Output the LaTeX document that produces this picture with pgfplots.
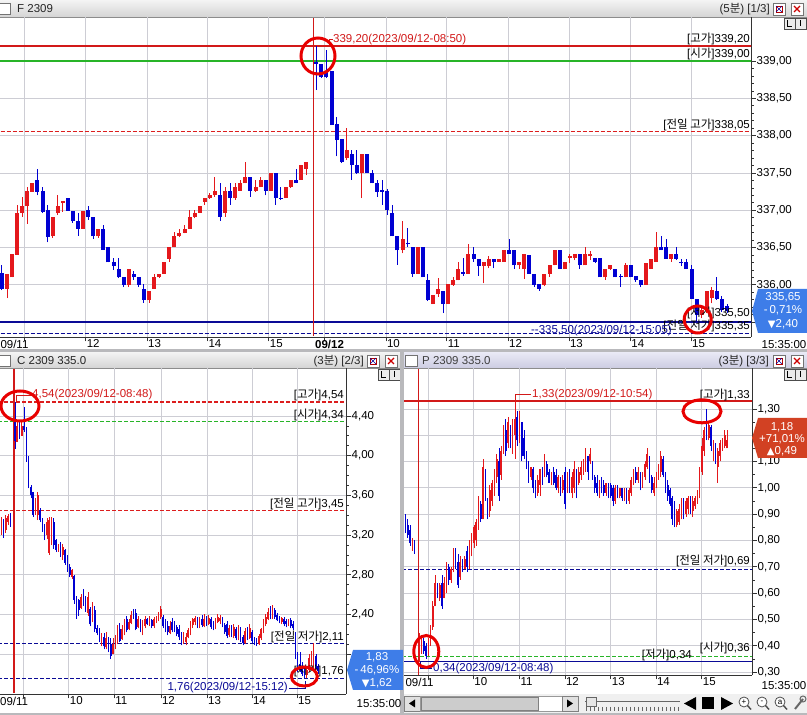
\documentclass[border=0pt]{standalone}
\usepackage{pgfplots}
\pgfplotsset{compat=1.18}
\usepackage{pgfplotstable}
\usepackage{fontspec}
\setmainfont{Liberation Sans}
\newfontfamily\kr{Noto Sans CJK KR}
\newfontfamily\sym{DejaVu Sans}
\newcommand{\lbl}{\fontsize{11.5}{13}\selectfont}
\newcommand{\K}[1]{{\kr #1}}
\definecolor{candR}{RGB}{228,24,28}
\definecolor{candB}{RGB}{0,0,210}
\definecolor{gridc}{RGB}{205,205,212}
\definecolor{hiR}{RGB}{210,25,25}
\definecolor{dashR}{RGB}{220,30,30}
\definecolor{openG}{RGB}{40,180,40}
\definecolor{nvy}{RGB}{10,10,150}
\definecolor{chrome}{RGB}{185,185,188}
\definecolor{hdrT}{RGB}{244,244,244}
\definecolor{hdrB}{RGB}{212,212,212}
\definecolor{hdrPT}{RGB}{234,234,246}
\definecolor{hdrPB}{RGB}{204,204,226}
\definecolor{boxB}{RGB}{62,125,232}
\definecolor{boxR}{RGB}{210,65,35}
\definecolor{circ}{RGB}{232,0,0}

% ---------- top panel: F 2309, 5-minute candles (x = candle slot) ----------
\pgfplotstableread{
x o h l c
1 335.95 336.15 335.82 336.15
2 336.10 336.41 336.10 336.41
3 336.40 337.07 336.40 336.96
4 336.96 337.18 336.91 337.06
5 337.05 337.31 336.82 337.26
6 337.25 337.36 337.25 337.36
10 336.65 336.91 336.63 336.91
11 336.96 337.20 336.94 337.06
12 337.10 337.12 336.98 337.12
16 336.75 336.99 336.75 336.99
19 336.65 336.75 336.63 336.75
25 336.00 336.21 335.97 336.21
29 335.80 335.91 335.76 335.91
30 335.95 336.15 335.95 336.10
31 336.10 336.15 336.09 336.15
32 336.15 336.31 336.15 336.31
33 336.35 336.50 336.31 336.50
34 336.50 336.71 336.50 336.65
35 336.65 336.75 336.64 336.70
36 336.70 336.80 336.69 336.75
37 336.75 337.00 336.75 336.91
38 336.91 337.00 336.89 336.96
39 336.96 337.06 336.96 337.06
40 337.11 337.16 337.07 337.16
41 337.16 337.23 337.15 337.20
42 337.20 337.45 337.18 337.26
44 336.96 337.31 336.91 337.26
46 337.16 337.36 337.14 337.31
47 337.26 337.41 337.26 337.36
48 337.36 337.65 337.36 337.45
50 337.26 337.41 337.25 337.31
51 337.31 337.45 337.31 337.41
53 337.26 337.50 337.26 337.50
56 337.16 337.31 337.16 337.31
57 337.31 337.41 337.30 337.41
59 337.41 337.60 337.41 337.60
60 337.55 337.65 337.47 337.65
68 337.70 338.10 337.67 337.81
71 337.50 337.75 337.16 337.75
79 336.46 336.85 336.42 336.61
82 336.15 336.51 336.15 336.51
85 335.74 335.86 335.74 335.86
86 335.87 336.09 335.84 335.95
88 335.74 336.01 335.74 336.01
89 336.00 336.11 335.99 336.06
90 336.06 336.31 336.06 336.21
92 336.15 336.55 336.15 336.41
95 336.25 336.31 336.02 336.31
96 336.25 336.38 336.22 336.35
98 336.31 336.35 336.31 336.35
99 336.31 336.46 336.31 336.46
102 336.26 336.31 336.21 336.31
103 336.21 336.41 336.08 336.41
107 336.00 336.15 335.98 336.15
108 336.15 336.26 336.11 336.26
109 336.26 336.46 336.26 336.46
111 336.21 336.31 336.21 336.31
112 336.36 336.41 336.29 336.37
113 336.36 336.41 336.33 336.41
115 336.26 336.51 336.26 336.41
116 336.38 336.45 336.33 336.41
119 336.10 336.21 336.07 336.21
120 336.21 336.27 336.20 336.27
123 336.10 336.29 336.10 336.26
127 336.00 336.29 336.00 336.29
128 336.21 336.35 336.21 336.35
129 336.31 336.71 336.31 336.51
132 336.35 336.41 336.31 336.41
138 335.60 335.72 335.55 335.66
139 335.66 335.92 335.62 335.91
140 335.82 335.97 335.75 335.93
}\topUp
\pgfplotstableread{
x o h l c
0 336.16 336.27 335.93 335.95
7 337.41 337.55 337.20 337.25
8 337.26 337.31 336.96 336.98
9 337.00 337.07 336.57 336.64
13 337.16 337.16 336.99 336.99
14 336.99 336.99 336.83 336.85
15 336.86 336.96 336.66 336.75
17 337.00 337.05 336.87 336.91
18 336.91 336.91 336.62 336.65
20 336.75 336.80 336.47 336.47
21 336.50 336.50 336.30 336.30
22 336.31 336.36 336.20 336.25
23 336.21 336.36 336.09 336.10
24 336.10 336.10 335.97 336.00
26 336.15 336.18 336.07 336.10
27 336.10 336.10 335.97 336.00
28 335.95 336.01 335.76 335.80
43 337.20 337.37 336.86 336.91
45 337.26 337.36 337.07 337.16
49 337.45 337.45 337.18 337.26
52 337.41 337.41 337.20 337.26
54 337.50 337.50 337.07 337.16
55 337.17 337.31 337.14 337.15
58 337.41 337.55 337.36 337.36
62 338.99 339.20 338.61 338.96
63 338.96 338.96 338.77 338.79
64 338.86 339.15 338.77 338.78
65 338.86 338.86 338.14 338.14
66 338.16 338.25 337.72 337.94
67 337.95 337.95 337.63 337.65
69 337.75 337.81 337.41 337.60
70 337.61 337.81 337.49 337.50
72 337.75 337.75 337.50 337.50
73 337.50 337.54 337.36 337.36
74 337.36 337.41 337.18 337.25
75 337.26 337.41 337.07 337.25
76 337.26 337.29 336.94 337.00
77 336.96 337.07 336.65 336.65
78 336.65 336.65 336.27 336.46
80 336.56 336.76 336.51 336.54
81 336.51 336.51 336.11 336.15
83 336.51 336.51 336.10 336.10
84 336.06 336.15 335.78 335.80
87 335.92 335.92 335.62 335.74
91 336.16 336.36 336.12 336.15
93 336.41 336.51 336.31 336.35
94 336.35 336.35 336.12 336.25
97 336.35 336.35 336.22 336.31
100 336.46 336.61 336.41 336.41
101 336.46 336.46 336.21 336.26
104 336.40 336.40 336.15 336.15
105 336.15 336.15 335.97 336.00
106 336.01 336.01 335.92 335.95
110 336.46 336.46 336.21 336.21
114 336.41 336.41 336.21 336.26
117 336.36 336.36 336.29 336.31
118 336.36 336.36 336.10 336.10
121 336.21 336.21 336.10 336.10
122 336.12 336.14 335.97 336.10
124 336.26 336.26 336.10 336.10
125 336.12 336.12 336.04 336.06
126 336.06 336.06 335.97 336.00
130 336.51 336.65 336.46 336.46
131 336.51 336.61 336.35 336.35
133 336.41 336.51 336.33 336.35
134 336.31 336.35 336.25 336.29
135 336.31 336.35 336.21 336.21
136 336.21 336.27 335.81 335.81
137 335.81 335.81 335.50 335.60
141 335.91 336.11 335.80 335.81
142 335.81 335.85 335.64 335.66
143 335.72 335.74 335.62 335.65
}\topDn

% ---------- bottom-left: C 2309 335.0, 3-minute candles ----------
\pgfplotstableread{
x o h l c
-6 3.25 3.38 3.20 3.36
-4 3.25 3.40 3.22 3.37
-3 3.33 3.41 3.30 3.39
1 4.14 4.35 4.14 4.30
3 4.20 4.36 4.20 4.30
9 3.42 3.57 3.40 3.55
10 3.40 3.63 3.35 3.60
14 3.20 3.37 3.16 3.33
15 3.02 3.38 3.00 3.35
16 3.15 3.38 3.10 3.35
19 3.05 3.11 3.03 3.10
21 3.00 3.11 2.95 3.08
25 2.78 2.86 2.76 2.85
29 2.47 2.61 2.46 2.58
32 2.42 2.63 2.39 2.58
34 2.33 2.53 2.32 2.47
38 2.11 2.21 2.08 2.18
40 2.07 2.22 2.05 2.16
43 2.00 2.16 2.00 2.10
44 2.06 2.19 2.05 2.17
45 2.12 2.29 2.10 2.25
47 2.15 2.29 2.14 2.25
48 2.20 2.36 2.19 2.33
50 2.25 2.36 2.24 2.32
51 2.31 2.44 2.30 2.40
54 2.27 2.39 2.26 2.35
56 2.21 2.34 2.19 2.30
57 2.28 2.39 2.26 2.36
59 2.30 2.39 2.28 2.37
61 2.28 2.38 2.26 2.35
62 2.32 2.39 2.31 2.37
63 2.35 2.43 2.33 2.41
64 2.38 2.49 2.36 2.46
68 2.21 2.33 2.20 2.28
74 2.11 2.22 2.10 2.18
75 2.12 2.21 2.09 2.17
76 2.17 2.26 2.16 2.24
77 2.22 2.33 2.19 2.30
78 2.29 2.37 2.26 2.35
79 2.32 2.39 2.29 2.37
81 2.28 2.38 2.26 2.35
83 2.28 2.41 2.27 2.36
85 2.30 2.40 2.29 2.37
88 2.27 2.37 2.25 2.34
89 2.32 2.41 2.31 2.38
90 2.33 2.40 2.30 2.37
94 2.19 2.29 2.17 2.26
96 2.18 2.30 2.16 2.27
98 2.16 2.29 2.14 2.24
101 2.11 2.26 2.10 2.23
103 2.16 2.30 2.15 2.26
107 2.10 2.20 2.09 2.18
108 2.16 2.26 2.14 2.25
109 2.22 2.35 2.21 2.33
110 2.30 2.41 2.28 2.38
111 2.35 2.47 2.34 2.43
113 2.38 2.50 2.36 2.45
117 2.32 2.38 2.30 2.37
120 2.29 2.36 2.28 2.34
128 1.79 1.87 1.76 1.84
129 1.84 2.00 1.82 1.96
130 1.90 2.03 1.88 2.00
131 1.88 2.11 1.85 2.00
}\cUp
\pgfplotstableread{
x o h l c
-5 3.34 3.36 3.17 3.22
-2 3.40 3.42 3.28 3.30
0 4.34 4.54 4.07 4.15
2 4.30 4.35 4.17 4.18
4 4.30 4.49 4.24 4.26
5 4.28 4.29 3.94 3.95
6 3.98 4.00 3.67 3.70
7 3.68 3.70 3.57 3.60
8 3.63 3.63 3.38 3.40
11 3.45 3.47 3.33 3.35
12 3.36 3.37 3.23 3.25
13 3.30 3.31 3.15 3.18
17 3.33 3.37 3.06 3.10
18 3.15 3.16 3.03 3.05
20 3.10 3.13 2.98 3.00
22 3.05 3.06 2.90 2.92
23 2.97 3.00 2.83 2.84
24 2.88 2.91 2.78 2.80
26 2.79 2.80 2.51 2.55
27 2.58 2.59 2.36 2.40
28 2.55 2.56 2.39 2.45
30 2.62 2.66 2.49 2.52
31 2.56 2.59 2.43 2.45
33 2.46 2.48 2.28 2.30
35 2.45 2.49 2.22 2.25
36 2.26 2.29 2.19 2.21
37 2.22 2.26 2.12 2.14
39 2.17 2.21 2.05 2.08
41 2.14 2.17 2.02 2.05
42 2.10 2.16 1.95 1.98
46 2.25 2.31 2.12 2.13
49 2.35 2.39 2.22 2.24
52 2.42 2.46 2.36 2.38
53 2.42 2.46 2.24 2.25
55 2.32 2.36 2.22 2.25
58 2.36 2.37 2.29 2.30
60 2.34 2.36 2.26 2.28
65 2.38 2.40 2.26 2.28
66 2.32 2.36 2.22 2.25
67 2.28 2.33 2.19 2.22
69 2.32 2.37 2.22 2.24
70 2.29 2.33 2.22 2.24
71 2.27 2.29 2.18 2.20
72 2.25 2.29 2.14 2.17
73 2.20 2.22 2.09 2.11
80 2.36 2.38 2.26 2.30
82 2.36 2.40 2.27 2.29
84 2.37 2.39 2.28 2.30
86 2.36 2.38 2.25 2.27
87 2.30 2.33 2.24 2.26
91 2.36 2.38 2.27 2.29
92 2.29 2.31 2.20 2.22
93 2.30 2.33 2.16 2.18
95 2.26 2.29 2.17 2.20
97 2.25 2.27 2.14 2.16
99 2.25 2.27 2.12 2.15
100 2.17 2.19 2.09 2.11
102 2.22 2.27 2.14 2.16
104 2.22 2.24 2.11 2.13
105 2.15 2.17 2.09 2.11
106 2.13 2.16 2.08 2.10
112 2.45 2.49 2.35 2.37
114 2.45 2.47 2.36 2.38
115 2.40 2.42 2.33 2.34
116 2.37 2.39 2.31 2.33
118 2.36 2.38 2.28 2.30
119 2.33 2.35 2.27 2.30
121 2.34 2.37 2.26 2.28
122 2.30 2.33 2.24 2.26
123 2.19 2.22 1.95 1.97
124 1.98 2.02 1.82 1.85
125 1.90 2.02 1.82 1.84
126 1.86 1.92 1.78 1.80
127 1.82 1.88 1.76 1.78
132 1.98 2.00 1.85 1.88
133 1.88 1.90 1.80 1.83
}\cDn

% ---------- bottom-right: P 2309 335.0, 3-minute candles ----------
\pgfplotstableread{
x o h l c
-3 0.77 0.81 0.76 0.80
0 0.36 0.45 0.34 0.41
1 0.38 0.44 0.37 0.42
4 0.37 0.43 0.36 0.42
5 0.40 0.48 0.40 0.47
6 0.47 0.57 0.46 0.55
7 0.55 0.67 0.55 0.64
9 0.58 0.64 0.57 0.63
11 0.58 0.66 0.58 0.64
12 0.62 0.72 0.60 0.70
14 0.65 0.70 0.64 0.69
15 0.68 0.77 0.68 0.75
18 0.66 0.74 0.65 0.72
20 0.69 0.74 0.69 0.73
22 0.70 0.80 0.69 0.78
23 0.76 0.83 0.74 0.82
24 0.79 0.86 0.77 0.85
25 0.80 0.88 0.78 0.87
26 0.86 0.97 0.84 0.95
28 0.88 1.11 0.88 1.08
31 0.91 1.01 0.89 0.99
32 0.95 1.03 0.93 1.02
33 0.98 1.07 0.97 1.05
34 1.04 1.13 1.02 1.11
36 1.05 1.16 1.03 1.14
37 1.14 1.24 1.13 1.22
39 1.17 1.27 1.15 1.25
41 1.16 1.26 1.13 1.24
42 1.20 1.33 1.11 1.26
44 1.19 1.29 1.17 1.27
49 1.04 1.08 1.03 1.08
52 0.98 1.05 0.97 1.03
53 1.01 1.07 0.97 1.07
55 1.05 1.13 1.04 1.11
58 1.02 1.06 1.01 1.05
61 1.00 1.05 0.98 1.04
63 0.99 1.05 0.98 1.03
65 0.99 1.06 0.98 1.04
67 0.98 1.06 0.96 1.04
68 1.00 1.10 0.98 1.07
70 1.02 1.08 1.01 1.06
71 1.05 1.10 1.03 1.08
72 1.07 1.11 1.05 1.10
73 1.08 1.15 1.06 1.13
75 1.10 1.15 1.09 1.13
79 0.99 1.03 0.96 1.03
82 0.98 1.02 0.97 1.02
86 0.95 1.01 0.94 1.00
88 0.97 1.00 0.96 1.00
90 0.96 1.00 0.95 0.99
92 0.95 1.00 0.94 0.99
93 0.98 1.04 0.97 1.03
94 1.02 1.07 1.01 1.06
96 1.03 1.08 1.02 1.06
98 1.01 1.06 1.00 1.05
99 1.04 1.10 1.03 1.09
100 1.08 1.15 1.07 1.13
103 0.98 1.04 0.97 1.02
104 1.01 1.06 1.00 1.05
105 1.04 1.09 1.03 1.07
106 1.06 1.14 1.04 1.12
113 0.86 0.92 0.85 0.91
114 0.87 0.94 0.86 0.92
115 0.89 0.96 0.88 0.94
117 0.90 0.96 0.89 0.95
118 0.92 0.97 0.90 0.96
120 0.91 0.97 0.89 0.95
121 0.93 0.97 0.92 0.96
122 0.95 0.99 0.94 0.98
123 0.97 1.08 0.96 1.07
124 1.06 1.19 1.05 1.16
125 1.14 1.23 1.12 1.22
127 1.19 1.25 1.18 1.24
129 1.11 1.18 1.10 1.16
131 1.08 1.15 1.02 1.14
132 1.12 1.18 1.10 1.17
133 1.15 1.19 1.14 1.18
134 1.16 1.22 1.15 1.20
135 1.15 1.22 1.15 1.18
}\pUp
\pgfplotstableread{
x o h l c
-6 0.89 0.90 0.83 0.84
-5 0.86 0.88 0.81 0.82
-4 0.84 0.86 0.78 0.79
-2 0.80 0.80 0.75 0.76
2 0.42 0.43 0.37 0.38
3 0.40 0.41 0.35 0.36
8 0.63 0.64 0.58 0.59
10 0.64 0.67 0.54 0.55
13 0.70 0.71 0.63 0.65
16 0.75 0.77 0.69 0.70
17 0.72 0.75 0.62 0.63
19 0.72 0.73 0.68 0.69
21 0.76 0.78 0.68 0.70
27 0.94 0.95 0.87 0.88
29 1.05 1.07 0.95 0.97
30 0.95 0.96 0.88 0.90
35 1.10 1.15 0.95 0.97
38 1.22 1.26 1.12 1.14
40 1.23 1.24 1.15 1.17
43 1.27 1.29 1.16 1.18
45 1.25 1.25 1.10 1.12
46 1.19 1.22 1.11 1.12
47 1.12 1.14 1.07 1.08
48 1.09 1.10 1.02 1.03
50 1.07 1.08 0.98 1.00
51 1.02 1.03 0.96 0.97
54 1.07 1.08 1.01 1.03
56 1.09 1.10 1.04 1.05
57 1.06 1.07 1.02 1.02
59 1.06 1.08 1.01 1.02
60 1.05 1.07 0.99 1.00
62 1.03 1.04 0.97 0.98
64 1.06 1.08 0.92 0.94
66 1.04 1.07 0.98 1.00
69 1.06 1.07 0.96 0.99
74 1.12 1.12 1.03 1.06
76 1.09 1.10 1.03 1.04
77 1.04 1.05 0.98 1.00
78 1.02 1.05 0.97 0.98
80 1.02 1.04 0.98 0.99
81 1.01 1.03 0.97 0.98
83 1.01 1.02 0.96 0.97
84 1.01 1.02 0.96 0.97
85 1.00 1.01 0.93 0.95
87 1.00 1.01 0.96 0.97
89 1.00 1.00 0.95 0.96
91 0.99 1.00 0.94 0.95
95 1.06 1.08 1.02 1.03
97 1.06 1.06 0.99 1.00
101 1.12 1.12 1.02 1.03
102 1.04 1.05 0.98 0.99
107 1.11 1.12 1.04 1.05
108 1.05 1.06 0.98 1.00
109 1.01 1.03 0.95 0.97
110 0.99 1.00 0.93 0.94
111 0.96 0.97 0.86 0.88
112 0.94 0.95 0.85 0.87
116 0.95 0.96 0.88 0.90
119 0.96 0.97 0.90 0.92
126 1.24 1.30 1.18 1.19
128 1.23 1.24 1.14 1.16
130 1.16 1.17 1.09 1.11
}\pDn

% candle helper: #1 table, #2 colour, #3 body width, #4 wick width, #5 min body
\newcommand{\candles}[5]{%
 \addplot[draw=none, mark=none, forget plot, error bars/.cd, y dir=plus, y explicit, error mark=none,
   error bar style={draw=#2, line width=#4, line cap=butt}]
   table[x=x, y=l, y error plus expr={\thisrow{h}-\thisrow{l}}] {#1};
 \addplot[draw=none, mark=none, forget plot, error bars/.cd, y dir=plus, y explicit, error mark=none,
   error bar style={draw=#2, line width=#3, line cap=butt}]
   table[x=x, y expr={min(\thisrow{o},\thisrow{c})}, y error plus expr={max(abs(\thisrow{c}-\thisrow{o}),#5)}] {#1};
}

\pgfplotsset{
 hts/.style={
  scale only axis, anchor=south west,
  axis x line*=bottom, axis y line*=right,
  axis line style={draw=black!80, line width=0.8pt},
  tick align=outside, major tick length=4.5pt, minor tick length=2.5pt,
  tick style={draw=black!80, line width=0.6pt},
  grid=major, major grid style={draw=gridc, line width=0.6pt},
  ticklabel style={font=\lbl, text=black},
  xticklabel style={anchor=north west, inner sep=1pt, yshift=3pt},
  yticklabel style={anchor=west, inner sep=1pt},
  scaled y ticks=false,
  clip=true,
 },
 hline/.style={forget plot, mark=none, line width=1.2pt, solid},
 hdash/.style={forget plot, mark=none, line width=1.2pt, dash pattern=on 4pt off 2pt},
}

\begin{document}
\begin{tikzpicture}
\useasboundingbox (0pt,0pt) rectangle (807pt,715pt);
% ================= window chrome (pixel coordinates, y down) =================
\begin{scope}[x=1pt,y=1pt,shift={(0pt,715pt)},yscale=-1]
 \fill[chrome] (0,0) rectangle (807,715);
 \fill[white] (0,17) rectangle (807,349);
 \shade[top color=hdrT, bottom color=hdrB] (0,0) rectangle (807,17);
 \draw[black!45] (0,17) -- (807,17);
 \draw[black!55, fill=white] (-2,3) rectangle (10,14);
 \node[anchor=west, inner sep=0pt, font=\lbl, text=black!85] at (17,9) {F 2309};
 \node[anchor=east, inner sep=0pt, font=\lbl, text=black!85] at (770,9) {(5\K{분}) [1/3]};
 \fill[white] (0,368) rectangle (400,713);
 \shade[top color=hdrT, bottom color=hdrB] (0,352) rectangle (400,368);
 \draw[black!45] (0,368) -- (400,368);
 \draw[black!55, fill=white] (-2,355) rectangle (10,366);
 \node[anchor=west, inner sep=0pt, font=\lbl, text=black!85] at (17,361) {C 2309 335.0};
 \node[anchor=east, inner sep=0pt, font=\lbl, text=black!85] at (364,361) {(3\K{분}) [2/3]};
 \fill[white] (404,368) rectangle (807,694);
 \shade[top color=hdrPT, bottom color=hdrPB] (404,352) rectangle (807,368);
 \draw[black!45] (404,368) -- (807,368);
 \draw[black!55, fill=white] (405,355) rectangle (417,366);
 \node[anchor=west, inner sep=0pt, font=\lbl, text=black!75] at (422,361) {P 2309 335.0};
 \node[anchor=east, inner sep=0pt, font=\lbl, text=black!85] at (769,361) {(3\K{분}) [3/3]};
 \foreach \ix/\iy in {773/3, 367/355, 773/355}{
   \draw[black!55, fill=white] (\ix,\iy) rectangle ++(12,12);
   \draw[red!70!black, line width=0.6pt] (\ix+3,\iy+3) rectangle ++(6,6);
   \draw[blue!60!black, line width=0.5pt] (\ix+3,\iy+3) -- ++(6,6) (\ix+9,\iy+3) -- ++(-6,6);
   \draw[black!55, fill=white] (\ix+18,\iy) rectangle ++(12,12);
   \draw[red!80!black, line width=1.2pt] (\ix+21,\iy+3) -- ++(6,6) (\ix+27,\iy+3) -- ++(-6,6);
 }
 \foreach \ix/\iy in {784/18, 378/369, 784/369}{
   \draw[black!70, fill=black!8] (\ix,\iy) rectangle ++(11,11);
   \draw[black!70, fill=black!8] (\ix+11,\iy) rectangle ++(11,11);
   \draw[black, line width=0.8pt] (\ix+3,\iy+2.5) -- (\ix+3,\iy+8) -- (\ix+8,\iy+8);
   \draw[black, line width=0.8pt] (\ix+16.5,\iy+2.5) -- (\ix+16.5,\iy+8.5);
 }
 \fill[black!6] (404,694) rectangle (807,713);
 \draw[black!50, fill=black!12] (404,696) rectangle (420,711);
 \fill[black] (409,703.5) -- (415,699.5) -- (415,707.5) -- cycle;
 \draw[black!40, fill=white] (420,696) rectangle (562,711);
 \draw[black!50, fill=black!20] (421,697) rectangle (538,710);
 \draw[black!50, fill=black!12] (562,696) rectangle (578,711);
 \fill[black] (573,703.5) -- (567,699.5) -- (567,707.5) -- cycle;
 \draw[black!60] (585,701) -- (680,701);
 \draw[black!60, fill=black!10] (586,697) rectangle (596,706);
 \foreach \tx in {586,590,...,680}{\draw[black!60] (\tx,707) -- (\tx,711);}
 \fill[black] (684,703.5) -- (696,697) -- (696,710) -- cycle;
 \fill[black] (702,697.5) rectangle (714,709.5);
 \fill[black] (733,703.5) -- (721,697) -- (721,710) -- cycle;
 \foreach \mx/\ms in {744/+, 762/-, 780/a}{
   \draw[black!70, line width=0.8pt, fill=white] (\mx,702) circle (5);
   \draw[black!70, line width=1.4pt] (\mx+3.5,705.5) -- (\mx+7,709.5);
   \node[inner sep=0pt, font=\fontsize{8}{8}\selectfont] at (\mx,702) {\ms};
 }
 \draw[black!60, line width=2pt] (795,709) -- (803,699);
 \draw[black!60, line width=1pt] (803,699) circle (3);
 \fill[chrome] (400,350) rectangle (404,715);
 \fill[chrome] (0,349) rectangle (807,352);
\end{scope}

% ================= top panel =================
\begin{axis}[hts, at={(0pt,378pt)}, width=751pt, height=320pt,
  xmin=-0.394, xmax=147.73, ymin=335.30, ymax=339.59,
  xtick={4.4,16.5,28.6,40.5,52.6,63.5,75.7,87.7,99.8,111.8,123.9,135.9},
  xticklabels={\hspace*{-25pt}09/11,12,13,14,15,\hspace*{-10pt}\textbf{09/12},10,11,12,13,14,15},
  ytick={335.5,336,336.5,337,337.5,338,338.5,339},
  yticklabels={{},{336,00},{336,50},{337,00},{337,50},{338,00},{338,50},{339,00}},
  minor y tick num=4]
 \addplot[hline, color=hiR] coordinates {(-5,339.20) (150,339.20)};
 \addplot[hline, color=openG] coordinates {(-5,339.00) (150,339.00)};
 \addplot[hdash, color=dashR] coordinates {(-5,338.05) (150,338.05)};
 \addplot[hline, color=nvy] coordinates {(-5,335.50) (150,335.50)};
 \addplot[hdash, color=nvy] coordinates {(-5,335.35) (150,335.35)};
 \addplot[hline, color=hiR] coordinates {(61.5,335.31) (61.5,339.58)};
 \candles{\topUp}{candR}{4pt}{1pt}{0.02}
 \candles{\topDn}{candB}{4pt}{1pt}{0.02}
\end{axis}

% ================= bottom-left panel =================
\begin{axis}[hts, at={(0pt,21pt)}, width=346pt, height=326pt,
  xmin=-6.58, xmax=145.2, ymin=1.600, ymax=4.882,
  xtick={3.5,23.6,43.5,64,84.2,103.9,123.7},
  xticklabels={\hspace*{-24pt}09/11,10,11,12,13,14,15},
  ytick={2.0,2.4,2.8,3.2,3.6,4.0,4.4},
  yticklabels={{},{2,40},{2,80},{3,20},{3,60},{4,00},{4,40}},
  minor y tick num=3]
 \addplot[hdash, color=dashR] coordinates {(-10,4.54) (150,4.54)};
 \addplot[hdash, color=openG] coordinates {(-10,4.34) (150,4.34)};
 \addplot[hdash, color=dashR] coordinates {(-10,3.45) (150,3.45)};
 \addplot[hdash, color=nvy] coordinates {(-10,2.11) (150,2.11)};
 \addplot[hdash, color=nvy] coordinates {(-10,1.76) (150,1.76)};
 \addplot[hline, color=hiR] coordinates {(-0.45,1.61) (-0.45,4.87)};
 \candles{\cUp}{candR}{1.6pt}{0.8pt}{0.01}
 \candles{\cDn}{candB}{1.6pt}{0.8pt}{0.01}
\end{axis}

% ================= bottom-right panel =================
\begin{axis}[hts, at={(404pt,40pt)}, width=348pt, height=307pt,
  xmin=-6.67, xmax=145.96, ymin=0.289, ymax=1.455,
  xtick={4,23.7,43.9,63.9,84,103.8,123.9},
  xticklabels={\hspace*{-24pt}09/11,10,11,12,13,14,15},
  ytick={0.3,0.4,0.5,0.6,0.7,0.8,0.9,1.0,1.1,1.2,1.3},
  yticklabels={{0,30},{0,40},{0,50},{0,60},{0,70},{0,80},{0,90},{1,00},{1,10},{},{1,30}},
  minor y tick num=1]
 \addplot[hline, color=hiR] coordinates {(-10,1.33) (150,1.33)};
 \addplot[hdash, color=nvy] coordinates {(-10,0.69) (150,0.69)};
 \addplot[hdash, color=openG] coordinates {(-10,0.36) (150,0.36)};
 \addplot[hline, color=nvy] coordinates {(-10,0.34) (150,0.34)};
 \addplot[hline, color=hiR] coordinates {(-0.4,0.29) (-0.4,1.45)};
 \candles{\pUp}{candR}{1.6pt}{0.8pt}{0.004}
 \candles{\pDn}{candB}{1.6pt}{0.8pt}{0.004}
\end{axis}

% ================= overlays (pixel coordinates) =================
\begin{scope}[x=1pt,y=1pt,shift={(0pt,715pt)},yscale=-1, every node/.style={font=\lbl, inner sep=0pt}]
 \node[anchor=east] at (750,38.5) {[\K{고가}]339,20};
 \node[anchor=east] at (750,53.5) {[\K{시가}]339,00};
 \node[anchor=east] at (750,124.5) {[\K{전일 고가}]338,05};
 \node[anchor=east] at (750,313) {[\K{저가}]335,50};
 \node[anchor=east] at (750,325.5) {[\K{전일 저가}]335,35};
 \draw[hiR, line width=0.8pt] (329,46) -- (329,39.5) -- (333,39.5);
 \node[anchor=west, text=hiR] at (333,39.5) {339,20(2023/09/12-08:50)};
 \node[anchor=east, text=nvy] at (672,331) {-{}-335,50(2023/09/12-15:05)};
 \node[anchor=center] at (784,345) {15:35:00};
 \node[anchor=east] at (344,394.5) {[\K{고가}]4,54};
 \node[anchor=east] at (344,414.5) {[\K{시가}]4,34};
 \node[anchor=east] at (344,503.5) {[\K{전일 고가}]3,45};
 \node[anchor=east] at (344,636.5) {[\K{전일 저가}]2,11};
 \node[anchor=east] at (344,671) {[\K{저가}]1,76};
 \draw[hiR, line width=0.8pt] (16,402) -- (16,395) -- (31,395);
 \node[anchor=west, text=hiR] at (32,395) {4,54(2023/09/12-08:48)};
 \node[anchor=east, text=nvy] at (288,687.5) {1,76(2023/09/12-15:12)};
 \draw[nvy, line width=0.8pt] (289,688) -- (305,688) -- (305,681);
 \node[anchor=center] at (379,704) {15:35:00};
 \node[anchor=east] at (750,394.5) {[\K{고가}]1,33};
 \node[anchor=east] at (750,561) {[\K{전일 저가}]0,69};
 \node[anchor=east] at (750,647.5) {[\K{시가}]0,36};
 \node[anchor=east] at (692,655) {[\K{저가}]0,34};
 \draw[hiR, line width=0.8pt] (515,401) -- (515,394.5) -- (531,394.5);
 \node[anchor=west, text=hiR] at (532,394.5) {1,33(2023/09/12-10:54)};
 \draw[nvy, line width=0.8pt] (420,661) -- (420,668.5) -- (432,668.5);
 \node[anchor=west, text=nvy] at (433,668.5) {0,34(2023/09/12-08:48)};
 \node[anchor=center] at (784,686) {15:35:00};
 \fill[boxB] (752,311) -- (758,289) -- (807,289) -- (807,333) -- (758,333) -- cycle;
 \node[text=white] at (783,297) {335,65};
 \node[text=white] at (783,310.5) {-\,0,71\%};
 \node[text=white] at (783,324) {{\sym\fontsize{10}{10}\selectfont ▼}2,40};
 \fill[boxB] (347,670) -- (353,650) -- (403,650) -- (403,690) -- (353,690) -- cycle;
 \node[text=white] at (377,657) {1,83};
 \node[text=white] at (377,670) {-\,46,96\%};
 \node[text=white] at (377,683) {{\sym\fontsize{10}{10}\selectfont ▼}1,62};
 \fill[boxR] (752,438) -- (758,418) -- (807,418) -- (807,458) -- (758,458) -- cycle;
 \node[text=white] at (782,427) {1,18};
 \node[text=white] at (782,439) {+71,01\%};
 \node[text=white] at (782,451) {{\sym\fontsize{10}{10}\selectfont ▲}0,49};
 \draw[circ, line width=3pt] (318,56) ellipse [x radius=17, y radius=18];
 \draw[circ, line width=3pt] (697.7,319.5) ellipse [x radius=13.5, y radius=13.5];
 \draw[circ, line width=3pt] (20,406) ellipse [x radius=19, y radius=15];
 \draw[circ, line width=3pt] (304.3,676.5) ellipse [x radius=13, y radius=9.5];
 \draw[circ, line width=3pt] (426.3,651.5) ellipse [x radius=12.5, y radius=16];
 \draw[circ, line width=3pt] (702,411.3) ellipse [x radius=19, y radius=11.5];
\end{scope}
\end{tikzpicture}
\end{document}
